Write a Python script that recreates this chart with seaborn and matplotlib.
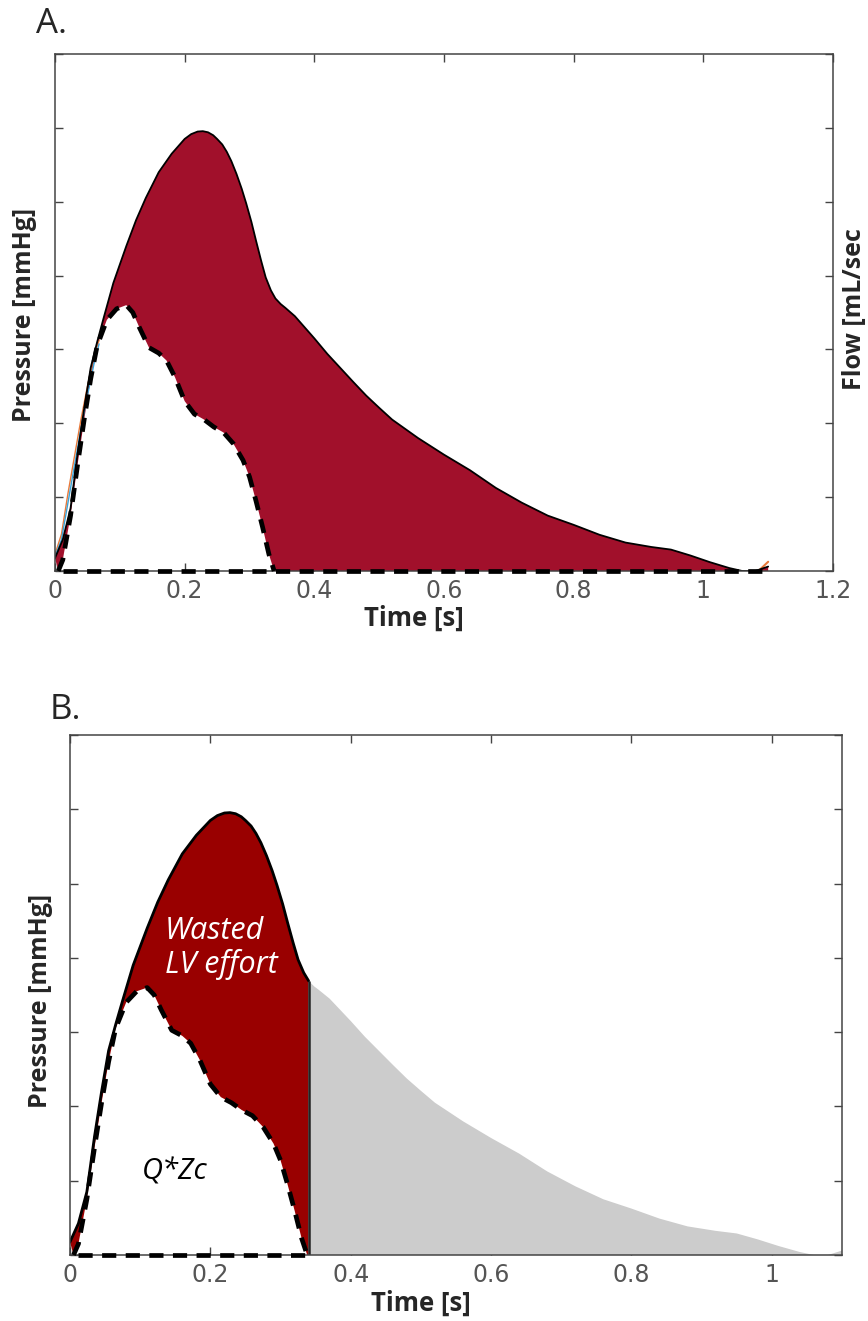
import numpy as np
import matplotlib
matplotlib.use("Agg")
import matplotlib.pyplot as plt
import seaborn as sns

# aortic pressure wave (y axis 0-140, no labels shown)
t_press = [0.000, 0.012, 0.024, 0.035, 0.045, 0.055, 0.065, 0.075, 0.090, 0.110,
           0.125, 0.140, 0.160, 0.180, 0.200, 0.210, 0.220, 0.228, 0.236, 0.244,
           0.250, 0.258, 0.265, 0.272, 0.280, 0.288, 0.295, 0.303, 0.310, 0.318,
           0.325, 0.333, 0.340, 0.348, 0.355, 0.370, 0.385, 0.400, 0.420, 0.440,
           0.460, 0.480, 0.500, 0.520, 0.560, 0.600, 0.640, 0.680, 0.720, 0.760,
           0.800, 0.840, 0.880, 0.920, 0.950, 0.980, 1.010, 1.040, 1.060, 1.080,
           1.100]
press = [3.5, 8.5, 17.0, 32.0, 44.0, 55.0, 62.0, 68.5, 78.0, 88.0,
         95.0, 101.0, 108.0, 113.0, 117.0, 118.3, 119.0, 119.1, 118.8, 118.0,
         117.0, 115.5, 113.5, 111.0, 107.5, 103.5, 99.5, 94.5, 89.5, 84.0,
         79.5, 76.0, 73.8, 72.3, 71.3, 69.0, 66.0, 63.0, 58.8, 55.0,
         51.2, 47.5, 44.2, 41.0, 36.0, 31.5, 27.3, 22.5, 18.5, 15.0,
         12.5, 9.8, 7.7, 6.5, 5.8, 4.2, 2.4, 0.8, 0.0, 0.0,
         1.2]

# flow times characteristic impedance (Q*Zc)
t_qzc = [0.005, 0.012, 0.024, 0.035, 0.045, 0.055, 0.065, 0.080, 0.095, 0.110,
         0.120, 0.130, 0.145, 0.160, 0.172, 0.185, 0.200, 0.215, 0.230, 0.245,
         0.260, 0.275, 0.290, 0.300, 0.310, 0.320, 0.330, 0.338]
qzc = [0.0, 3.0, 15.0, 29.0, 41.0, 52.0, 61.0, 68.0, 71.0, 72.0,
       70.0, 66.0, 60.5, 59.0, 57.0, 52.5, 46.0, 42.5, 41.0, 39.0,
       37.5, 34.5, 30.0, 25.5, 19.0, 12.0, 4.5, 0.0]

# the thin coloured traces on the upstroke in panel A
t_trace = [0.000, 0.010, 0.020, 0.030, 0.040, 0.050, 0.060, 0.068]
trace_orange = [4.5, 10.0, 21.0, 31.0, 41.0, 50.0, 58.0, 62.5]
trace_blue = [4.0, 8.5, 18.5, 28.5, 38.5, 47.5, 56.0, 61.5]
t_tail = [1.085, 1.100]
tail_orange = [0.0, 2.5]

t_split = 0.34      # end of ejection, vertical line in B
t_base = 0.012      # start of the dashed zero line

xticks_a = [0, 0.2, 0.4, 0.6, 0.8, 1.0, 1.2]
xticks_b = [0, 0.2, 0.4, 0.6, 0.8, 1.0]
yticks = [0, 20, 40, 60, 80, 100, 120, 140]

RED_A = "#A1102B"
RED_B = "#990000"
GREY = "#CCCCCC"
TICK_COL = "#555555"
LAB_FONT = ["Open Sans", "DejaVu Sans"]

sns.set_style("ticks")
plt.rcParams["font.family"] = ["DejaVu Sans"]

tp = np.array(t_press)
pp = np.array(press)
tq = np.array(t_qzc)
qq = np.array(qzc)


def lbl(x):
    return "{:g}".format(x)


def estilo(ax, xticks, xmax):
    ax.set_xlim(0, xmax)
    ax.set_ylim(0, 140)
    ax.set_xticks(xticks)
    ax.set_xticklabels([lbl(x) for x in xticks])
    ax.set_yticks(yticks)
    ax.tick_params(direction="in", length=6, width=1, color="#444444",
                   top=True, right=True, labelleft=False, labelcolor=TICK_COL,
                   labelsize=17, pad=6)
    for s in ax.spines.values():
        s.set_color("#444444")
        s.set_linewidth(1.1)
        s.set_zorder(5)


def tracejado(ax, x, y):
    sns.lineplot(x=x, y=y, ax=ax, color="k", linewidth=3.4, zorder=6)
    ln = ax.lines[-1]
    ln.set_dashes((3, 2))
    ln.set_dash_capstyle("butt")
    ln.set_clip_on(False)


def rotulos(ax, xlab_pos, ylab_pos):
    ax.set_xlabel("")
    ax.set_ylabel("")
    ax.text(xlab_pos[0], xlab_pos[1], "Time [s]", transform=ax.transAxes,
            ha="center", va="center", fontsize=18.5, fontweight="bold", family=LAB_FONT)
    ax.text(ylab_pos[0], ylab_pos[1], "Pressure [mmHg]", transform=ax.transAxes,
            rotation=90, ha="center", va="center", fontsize=18, fontweight="bold",
            family=LAB_FONT)


fig = plt.figure(figsize=(8.68, 13.21), dpi=100)

# ---------------- panel A ----------------
axA = fig.add_axes([55 / 868, 1 - 571 / 1321, 778 / 868, 517 / 1321])
estilo(axA, xticks_a, 1.2)

poly_x = np.concatenate([tp, [tp[-1], tq[-1]], tq[::-1]])
poly_y = np.concatenate([pp, [0, 0], qq[::-1]])
axA.fill(poly_x, poly_y, color=RED_A, lw=0, zorder=1)

sns.lineplot(x=t_trace, y=trace_orange, ax=axA, color="#E8793A", linewidth=1, zorder=2)
sns.lineplot(x=t_trace, y=trace_blue, ax=axA, color="#3BA3D8", linewidth=1, zorder=2)
sns.lineplot(x=t_tail, y=tail_orange, ax=axA, color="#E8793A", linewidth=1.5, zorder=2)
sns.lineplot(x=tp, y=pp, ax=axA, color="k", linewidth=1.3, zorder=3)
tracejado(axA, tq, qq)
tracejado(axA, [t_base, t_press[-1]], [0, 0])

rotulos(axA, (0.461, -0.091), (-0.039, 0.495))
axA.text(1.027, 0.507, "Flow [mL/sec", transform=axA.transAxes, rotation=90,
         ha="center", va="center", fontsize=18, fontweight="bold", family=LAB_FONT)
fig.text(52 / 868, 1 - 24 / 1321, "A.", fontsize=25, ha="center", va="center",
         family=LAB_FONT)

# ---------------- panel B ----------------
axB = fig.add_axes([70 / 868, 1 - 1255 / 1321, 772 / 868, 520 / 1321])
estilo(axB, xticks_b, 1.1)

ate = tp <= t_split + 1e-9
depois = tp >= t_split - 1e-9
p_split = pp[np.argmin(np.abs(tp - t_split))]

red_x = np.concatenate([tp[ate], [t_split], tq[::-1]])
red_y = np.concatenate([pp[ate], [0], qq[::-1]])
axB.fill(red_x, red_y, color=RED_B, lw=0, zorder=1)

grey_x = np.concatenate([[t_split], tp[depois], [tp[-1]]])
grey_y = np.concatenate([[0], pp[depois], [0]])
axB.fill(grey_x, grey_y, color=GREY, lw=0, zorder=1)

sns.lineplot(x=tp[ate], y=pp[ate], ax=axB, color="k", linewidth=2, zorder=3)
axB.vlines(t_split, 0, p_split, color="#222222", linewidth=1.8, zorder=3)
tracejado(axB, tq, qq)
tracejado(axB, [t_base, t_split], [0, 0])

axB.text(0.1354, 82.7, "Wasted\nLV effort", ha="left", va="center", color="white",
         fontsize=22, style="italic", family=LAB_FONT, linespacing=1.1, zorder=7)
axB.text(0.1497, 22.3, "Q*Zc", ha="center", va="center", color="black",
         fontsize=21, style="italic", family=LAB_FONT, zorder=7)

rotulos(axB, (0.455, -0.092), (-0.038, 0.488))
fig.text(65 / 868, 1 - 710 / 1321, "B.", fontsize=25, ha="center", va="center",
         family=LAB_FONT)

plt.savefig("out.png", dpi=100)
